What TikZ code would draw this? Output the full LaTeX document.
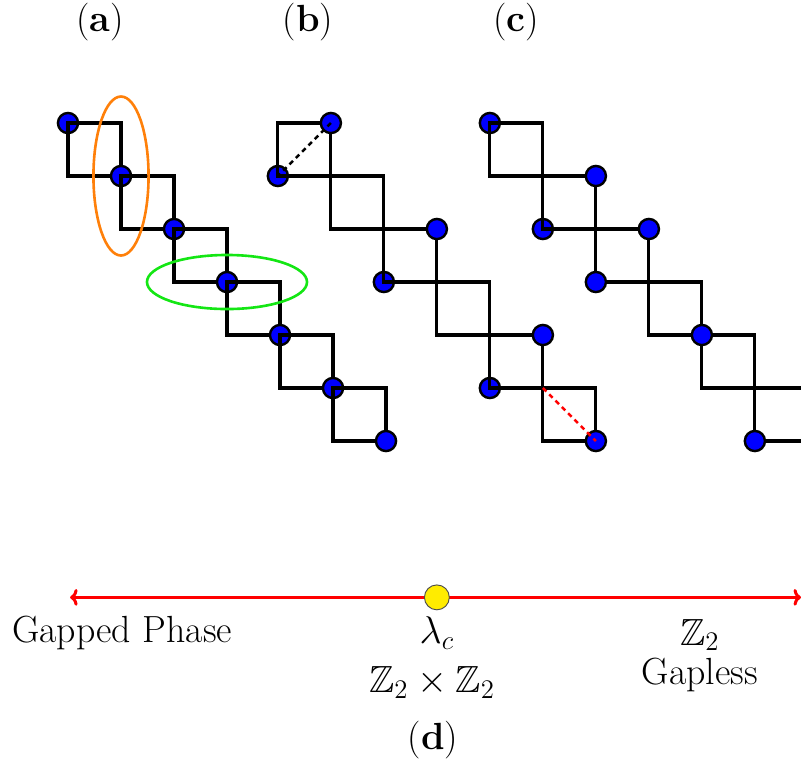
\documentclass[tikz,border=0pt]{standalone}
\usepackage{amsmath,amssymb}
\usetikzlibrary{arrows.meta,shapes.geometric}
\definecolor{siteblue}{RGB}{0,0,255}
\definecolor{ringorange}{RGB}{255,128,10}
\definecolor{ringgreen}{RGB}{20,230,20}
\definecolor{crityellow}{RGB}{255,236,0}
\tikzset{
  site/.style={circle, draw, fill=siteblue, line width=1.3pt,
               minimum size=0.38cm, inner sep=0pt},
  bond/.style={line width=1.7pt},
  link/.style={line width=1.4pt, dash pattern=on 2.6pt off 2.2pt},
  ring/.style={ellipse, draw, line width=1.4pt, inner sep=0pt},
  axis/.style={red, line width=1.6pt, {To[length=4pt,width=9pt]}-{To[length=4pt,width=9pt]}},
  lbl/.style={font=\fontsize{20.3}{24}\selectfont, inner sep=0pt},
}
\newcommand{\Ztwo}{\mathbb{Z}_2}

\begin{document}
\begin{tikzpicture}
  \useasboundingbox (-1.283,2.321) rectangle (13.830,-12.113);
  \clip (-1.283,2.321) rectangle (13.830,-12.113);
  % panel (a)
  \foreach \k in {0,...,5} {
    \node[site] (a\k) at (\k,-\k) {};
    \draw[bond] (\k,-\k) rectangle ++(1,-1);
  }
  \node[site] (a6) at (6,-6) {};
  \node[ring, draw=ringorange, minimum width=1.04cm, minimum height=3.0cm] (vpair) at (a1) {};
  \node[ring, draw=ringgreen, minimum width=3.02cm, minimum height=1.02cm] (hpair) at (a3) {};
  % panel (b)
  \node[site] (b2) at (3.96,-1) {};
  \node[site] (b4) at (5.96,-3) {};
  \node[site] (b6) at (7.96,-5) {};
  \foreach \k in {0,...,5}
    \draw[bond] (3.96+\k,-\k) rectangle ++(1,-1);
  \node[site] (b1) at (4.96,0) {};
  \node[site] (b3) at (6.96,-2) {};
  \node[site] (b5) at (8.96,-4) {};
  \node[site] (b7) at (9.96,-6) {};
  \coordinate (bcorner) at (8.96,-5);
  \draw[link] (b1.center) -- (b2.center);
  \draw[link, red] (bcorner) -- (b7.center);
  % panel (c)
  \node[site] (c1) at (7.96,0) {};
  \node[site] (c3) at (8.96,-2) {};
  \foreach \k in {0,...,5}
    \draw[bond] (7.96+\k,-\k) rectangle ++(1,-1);
  \node[site] (c2) at (9.96,-1) {};
  \node[site] (c4) at (10.96,-2) {};
  \node[site] (c5) at (9.96,-3) {};
  \node[site] (c6) at (11.96,-4) {};
  \node[site] (c7) at (12.96,-6) {};
  % panel labels
  \node[lbl] (la) at (0.60,1.91) {(\textbf{a})};
  \node[lbl] (lb) at (4.53,1.91) {(\textbf{b})};
  \node[lbl] (lc) at (8.45,1.91) {(\textbf{c})};
  % phase line (d)
  \coordinate (lo) at (0.04,-8.95);
  \coordinate (hi) at (13.83,-8.95);
  \draw[axis] (lo) -- (hi);
  \node[circle, draw=black!70, fill=crityellow, line width=0.5pt,
        minimum size=0.47cm, inner sep=0pt] (crit) at (6.96,-8.95) {};
  \node[lbl] (gapped) at (1.02,-9.62) {Gapped Phase};
  \node[lbl] (lamc) at (6.96,-9.62) {$\lambda_c$};
  \node[lbl] (zz) at (6.87,-10.55) {$\Ztwo\times\Ztwo$};
  \node[lbl] (zright) at (11.92,-9.66) {$\Ztwo$};
  \node[lbl] (gapless) at (11.92,-10.42) {Gapless};
  \node[lbl] (ld) at (6.89,-11.64) {(\textbf{d})};
\end{tikzpicture}
\end{document}
